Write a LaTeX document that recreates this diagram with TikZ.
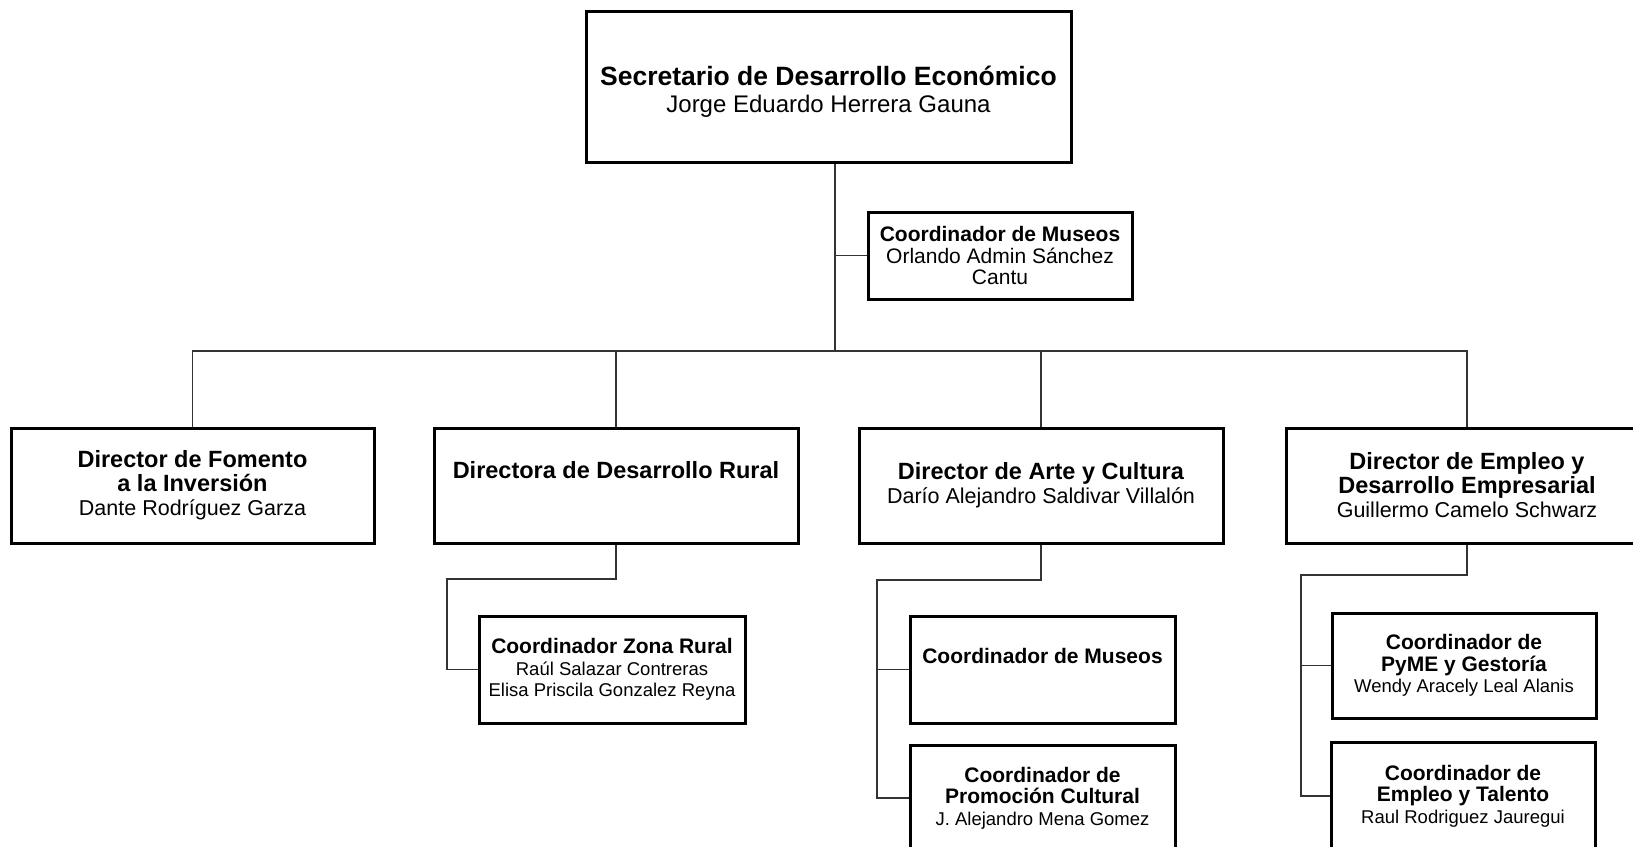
\documentclass[tikz,border=0pt]{standalone}
\usepackage{fontspec}
\setmainfont{Liberation Sans}
\begin{document}
\begin{tikzpicture}[x=1pt,y=-1pt,
  box/.style={draw=black, line width=3pt, rectangle, inner sep=0pt, align=center, text=black},
  link/.style={draw=black!80, line width=1.4pt},
  topfont/.style={font=\fontsize{26.5}{27}\selectfont},
  dirfont/.style={font=\fontsize{23.5}{24}\selectfont},
  coofont/.style={font=\fontsize{21}{21.5}\selectfont}]
\useasboundingbox (0,0) rectangle (1633,846);
\clip (0,0) rectangle (1633,846);

% top
\node[box, topfont, minimum width=485pt, minimum height=151pt] (sec) at (828.5,86.5)
  {\rule{0pt}{29pt}\textbf{Secretario de Desarrollo Económico}\\{\fontsize{24}{27}\selectfont Jorge Eduardo Herrera Gauna}};
\node[box, font=\fontsize{21}{21.5}\selectfont, minimum width=264pt, minimum height=87pt] (mus1) at (1000,255.5)
  {\textbf{Coordinador de Museos}\\Orlando Admin Sánchez\\Cantu};

% directors
\node[box, dirfont, minimum width=363pt, minimum height=115pt] (d1) at (192.5,485.5)
  {\textbf{Director de Fomento}\\\textbf{a la Inversión}\\{\fontsize{21.5}{24}\selectfont Dante Rodríguez Garza}};
\node[box, dirfont, minimum width=364pt, minimum height=115pt] (d2) at (616,485.5)
  {\textbf{Directora de Desarrollo Rural}\\{\fontsize{21.5}{24}\selectfont\strut}};
\node[box, dirfont, minimum width=364pt, minimum height=115pt] (d3) at (1041,485.5)
  {\textbf{Director de Arte y Cultura}\\{\fontsize{21.5}{24}\selectfont Darío Alejandro Saldivar Villalón}};
\node[box, dirfont, minimum width=362pt, minimum height=115pt] (d4) at (1467,485.5)
  {\textbf{Director de Empleo y}\\\textbf{Desarrollo Empresarial}\\{\fontsize{21.5}{24}\selectfont Guillermo Camelo Schwarz}};

% coordinators
\node[box, coofont, minimum width=266pt, minimum height=107pt] (zr) at (612,669.5)
  {\textbf{Coordinador Zona Rural}\\{\fontsize{18.5}{21.5}\selectfont Raúl Salazar Contreras}\\{\fontsize{18.5}{21.5}\selectfont Elisa Priscila Gonzalez Reyna}};
\node[box, coofont, minimum width=265pt, minimum height=107pt] (mus2) at (1042.5,669.5)
  {\textbf{Coordinador de Museos}\\{\fontsize{18.5}{21.5}\selectfont\strut}};
\node[box, coofont, minimum width=265pt, minimum height=106pt] (prom) at (1042.5,798)
  {\textbf{Coordinador de}\\\textbf{Promoción Cultural}\\{\fontsize{18.5}{21.5}\selectfont J. Alejandro Mena Gomez}};
\node[box, coofont, minimum width=264pt, minimum height=105pt] (pyme) at (1464,665.5)
  {\textbf{Coordinador de}\\\textbf{PyME y Gestoría}\\{\fontsize{18.5}{21.5}\selectfont Wendy Aracely Leal Alanis}};
\node[box, coofont, minimum width=264pt, minimum height=108pt] (tal) at (1463,796)
  {\textbf{Coordinador de}\\\textbf{Empleo y Talento}\\{\fontsize{18.5}{21.5}\selectfont Raul Rodriguez Jauregui}};

% connectors
\coordinate (trunk) at (835,351);
\coordinate (elbowR) at (447,579);
\coordinate (elbowA) at (877,580);
\coordinate (elbowE) at (1301,575);

\draw[link] (sec.south -| trunk) -- (trunk);
\draw[link] (mus1.west -| trunk) -- (mus1.west);
\draw[link] (d1.north) -- (d1.north |- trunk) -- (d4.north |- trunk) -- (d4.north);
\draw[link] (d2.north |- trunk) -- (d2.north);
\draw[link] (d3.north |- trunk) -- (d3.north);

\draw[link] (d2.south) -- (d2.south |- elbowR) -- (elbowR) -- (elbowR |- zr.west) -- (zr.west);
\draw[link] (d3.south) -- (d3.south |- elbowA) -- (elbowA) -- (elbowA |- prom.west) -- (prom.west);
\draw[link] (elbowA |- mus2.west) -- (mus2.west);
\draw[link] (d4.south) -- (d4.south |- elbowE) -- (elbowE) -- (elbowE |- tal.west) -- (tal.west);
\draw[link] (elbowE |- pyme.west) -- (pyme.west);
\end{tikzpicture}
\end{document}
